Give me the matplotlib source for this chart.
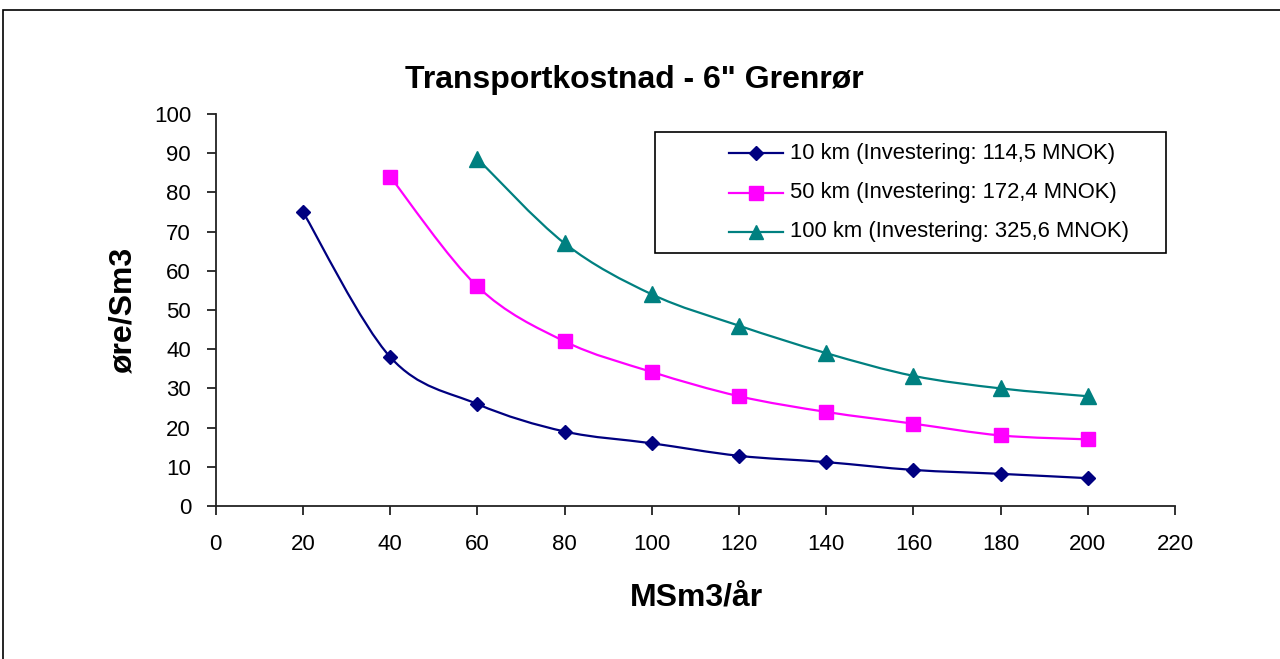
import numpy as np
from matplotlib import pyplot as plt
from matplotlib.path import Path
from matplotlib.patches import PathPatch, Rectangle

plt.rcParams['font.family'] = ['Liberation Sans', 'DejaVu Sans']

# Throughput (MSm3/year) and transport cost (øre/Sm3) for each pipeline length
x_10km = [20, 40, 60, 80, 100, 120, 140, 160, 180, 200]
y_10km = [75, 38, 26, 19, 16, 12.8, 11.2, 9.2, 8.2, 7.1]
x_50km = [40, 60, 80, 100, 120, 140, 160, 180, 200]
y_50km = [84, 56, 42, 34.2, 28, 24, 21, 18, 17]
x_100km = [60, 80, 100, 120, 140, 160, 180, 200]
y_100km = [88.6, 67, 54, 46, 39, 33.2, 30, 28]

labels = ['10 km (Investering: 114,5 MNOK)',
          '50 km (Investering: 172,4 MNOK)',
          '100 km (Investering: 325,6 MNOK)']


def smooth_path(xs, ys):
    # Catmull-Rom style cubic Bezier through the points (spreadsheet "smoothed line")
    p = np.column_stack([xs, ys]).astype(float)
    n = len(p)
    verts = [p[0]]
    codes = [Path.MOVETO]
    for i in range(n - 1):
        p0 = p[i - 1] if i > 0 else p[i]
        p1 = p[i]
        p2 = p[i + 1]
        p3 = p[i + 2] if i + 2 < n else p[i + 1]
        c1 = p1 + (p2 - p0) / 6.0
        c2 = p2 - (p3 - p1) / 6.0
        verts += [c1, c2, p2]
        codes += [Path.CURVE4] * 3
    return Path(verts, codes)


W, H = 1280, 659
fig = plt.figure(figsize=[W / 100, H / 100], dpi=100)
ax = fig.add_axes([215.8 / W, 1 - 506 / H, (1175 - 215.8) / W, 392 / H])

series = [
    (x_10km, y_10km, '#000080', 'D', 7),
    (x_50km, y_50km, '#FF00FF', 's', 10),
    (x_100km, y_100km, '#008080', '^', 11),
]

for xs, ys, col, mk, ms in series:
    ax.add_patch(PathPatch(smooth_path(xs, ys), facecolor='none', edgecolor=col, lw=1.6, zorder=2))
    ax.plot(xs, ys, linestyle='none', marker=mk, ms=ms, color=col, zorder=3, clip_on=False)

ax.set_xlim(0, 220)
ax.set_ylim(0, 100)
ax.set_xticks(np.arange(0, 221, 20))
ax.set_yticks(np.arange(0, 101, 10))
ax.spines['top'].set_visible(False)
ax.spines['right'].set_visible(False)
for s in ['left', 'bottom']:
    ax.spines[s].set_linewidth(1.3)
    ax.spines[s].set_color('#222222')
ax.tick_params(axis='both', direction='out', length=6.3, width=1.3, labelsize=16,
               color='#222222', pad=11.5)
ax.tick_params(axis='x', pad=14)

# titles and axis names
fig.text(634.5 / W, 1 - 88 / H, 'Transportkostnad - 6" Grenrør', fontsize=23,
         fontweight='bold', ha='center', va='baseline')
fig.text(696 / W, 1 - 606 / H, 'MSm3/år', fontsize=23, fontweight='bold',
         ha='center', va='baseline')
fig.text(123 / W, 1 - 310 / H, 'øre/Sm3', fontsize=23, fontweight='bold',
         rotation=90, ha='center', va='center')

# legend box, drawn in axes fractions
ax.add_patch(Rectangle((0.4579, 0.6454), 0.5328, 0.3086, transform=ax.transAxes,
                       facecolor='white', edgecolor='black', lw=1.2, zorder=4))
row_y = [0.9005, 0.7985, 0.699]
for (xs, ys, col, mk, ms), lab, ry in zip(series, labels, row_y):
    ax.plot([0.535, 0.5912], [ry, ry], color=col, lw=1.6, transform=ax.transAxes, zorder=5)
    ax.plot([0.563], [ry], marker=mk, ms=ms * 0.95, color=col, transform=ax.transAxes, zorder=6)
    ax.text(0.5988, ry, lab, fontsize=15.8, transform=ax.transAxes, va='center', ha='left', zorder=6)

# outer chart border
fig.patches.append(Rectangle((3 / W, -0.5), 2, 1.5 - 10 / H, transform=fig.transFigure,
                             fill=False, edgecolor='black', lw=1.2))

fig.savefig('out.png', dpi=100)
